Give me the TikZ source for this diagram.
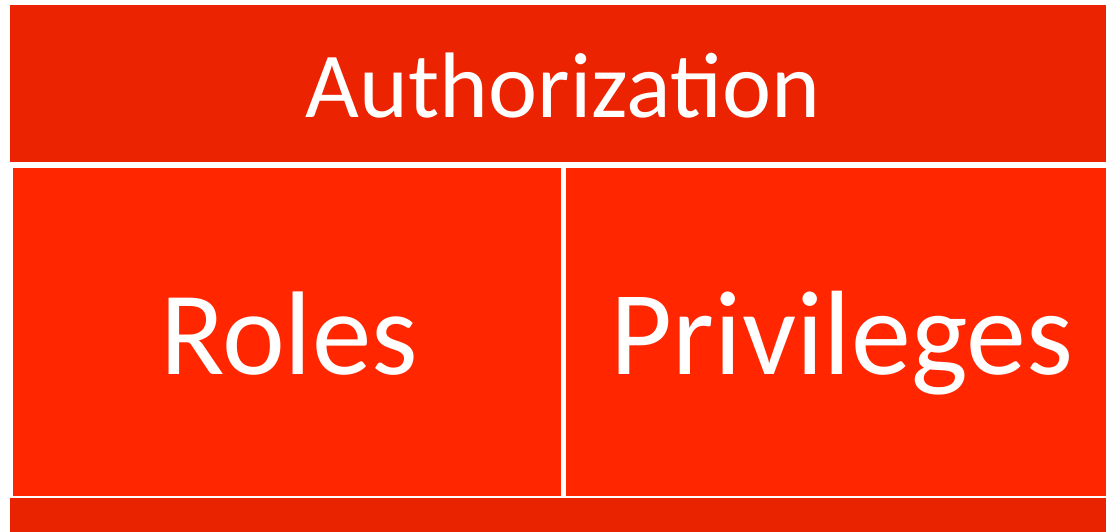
\documentclass[tikz,border=0pt]{standalone}
\usepackage{fontspec}
\setmainfont{Carlito}
\definecolor{topred}{HTML}{EB2300}
\definecolor{midred}{HTML}{FF2600}
\definecolor{botred}{HTML}{E92300}
\begin{document}
\begin{tikzpicture}[x=1pt,y=-1pt,
  lbl/.style={text=white, inner sep=0pt, anchor=base}]
\useasboundingbox (0,0) rectangle (1106,532);
\fill[topred] (10,5) rectangle (1106,162);
\fill[midred] (13,168) rectangle (561,496);
\fill[midred] (566,168) rectangle (1106,496);
\fill[botred] (10,498) rectangle (1106,532);
\node[lbl, font=\fontsize{93}{93}\selectfont] (auth) at (563,118) {Authorization};
\node[lbl, font=\fontsize{119}{119}\selectfont] (roles) at (289,374) {Roles};
\node[lbl, font=\fontsize{120}{120}\selectfont] (priv) at (842,374) {Privileges};
\end{tikzpicture}
\end{document}
